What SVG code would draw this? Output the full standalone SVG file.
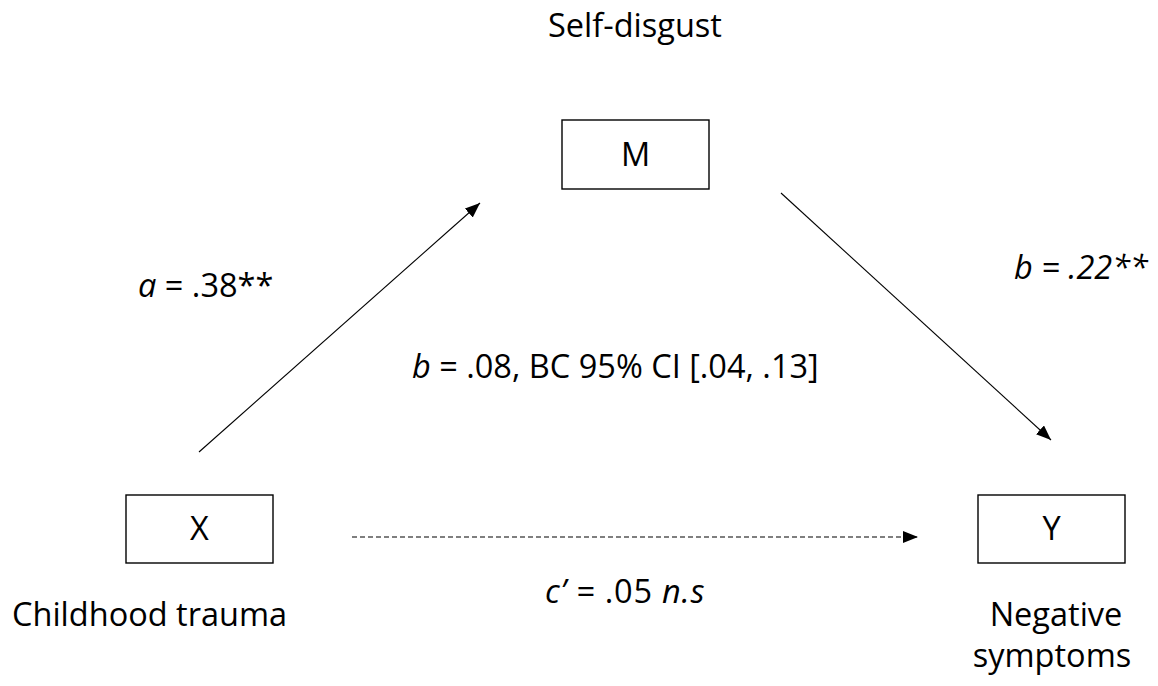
<svg xmlns="http://www.w3.org/2000/svg" width="1158" height="686" viewBox="0 0 1158 686">
<style>
text{font-family:"Open Sans","Noto Sans","Liberation Sans",sans-serif;font-size:32.5px;fill:#000}
.i{font-style:italic}
.box{fill:#fff;stroke:#000;stroke-width:1.4}
.edge{fill:none;stroke:#000;stroke-width:1.1}
.dash{stroke-dasharray:5 3}
</style>
<defs>
<marker id="ah" markerUnits="userSpaceOnUse" markerWidth="16" markerHeight="13" refX="15" refY="6" orient="auto">
<path d="M0,0 L15,6 L0,12 z" fill="#000"/>
</marker>
</defs>
<rect width="1158" height="686" fill="#fff"/>
<g id="edges">
<line class="edge" x1="199" y1="452" x2="480" y2="203" marker-end="url(#ah)"/>
<line class="edge" x1="781" y1="193" x2="1051" y2="440" marker-end="url(#ah)"/>
<line class="edge dash" x1="352" y1="537" x2="918" y2="537" marker-end="url(#ah)"/>
<text x="138" y="297"><tspan class="i">a</tspan> = .38**</text>
<text x="1014" y="279" class="i">b = .22**</text>
<text x="412" y="378"><tspan class="i">b</tspan> = .08, BC 95% CI [.04, .13]</text>
<text x="545" y="603" letter-spacing="0.8"><tspan class="i">c’ = </tspan>.05 <tspan class="i">n.s</tspan></text>
</g>
<g id="node-M">
<text x="635" y="37" text-anchor="middle">Self-disgust</text>
<rect class="box" x="562" y="120" width="147" height="69"/>
<text x="635.5" y="166" text-anchor="middle">M</text>
</g>
<g id="node-X">
<rect class="box" x="126" y="495" width="147" height="68"/>
<text x="199.5" y="540" text-anchor="middle">X</text>
<text x="12" y="626">Childhood trauma</text>
</g>
<g id="node-Y">
<rect class="box" x="978" y="495" width="147" height="68"/>
<text x="1051.5" y="540" text-anchor="middle">Y</text>
<text x="1056" y="626" text-anchor="middle">Negative</text>
<text x="1052" y="667" text-anchor="middle">symptoms</text>
</g>
</svg>
